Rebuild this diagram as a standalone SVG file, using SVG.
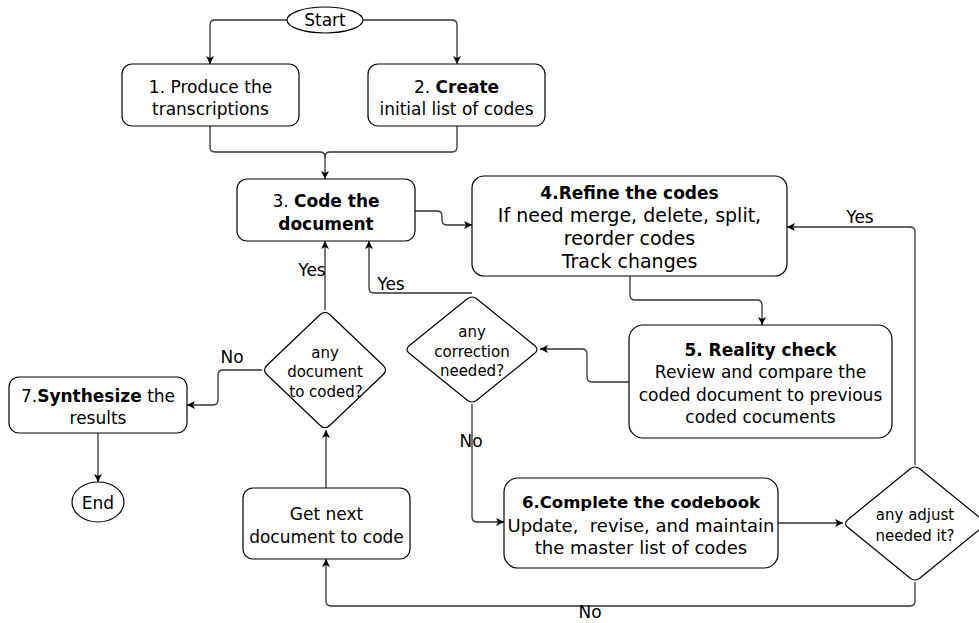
<svg xmlns="http://www.w3.org/2000/svg" width="979" height="623" viewBox="0 0 979 623">
<style>
  .box{fill:#fff;stroke:#000;stroke-width:1.2}
  .t{font-family:"DejaVu Sans",sans-serif;font-size:17px;fill:#000;text-anchor:middle;white-space:pre}
  .b{font-weight:bold}
  .d{font-size:15px}
  .big{font-size:19px}
  .m{font-size:18px}
  .lbl{font-family:"DejaVu Sans",sans-serif;font-size:17px;fill:#000;text-anchor:middle}
  .c{fill:none;stroke:#333;stroke-width:1.3}
</style>
<defs>
  <marker id="ar" viewBox="0 0 10 10" refX="10" refY="5" markerWidth="8" markerHeight="8" markerUnits="userSpaceOnUse" orient="auto">
    <path d="M0,0 L10,5 L0,10 L2.5,5 Z" fill="#000"/>
  </marker>
</defs>
<rect width="979" height="623" fill="#fff"/>
<g id="connectors">
  <path class="c" d="M287,20 H215 Q210,20 210,25 V64" marker-end="url(#ar)"/>
  <path class="c" d="M363,20 H452 Q457,20 457,25 V64" marker-end="url(#ar)"/>
  <path class="c" d="M210,126 V147 Q210,152 215,152 H320 Q325,152 325,157 V179" marker-end="url(#ar)"/>
  <path class="c" d="M457,126 V147 Q457,152 452,152 H330 Q325,152 325,157"/>
  <path class="c" d="M415,211 H437 Q442,211 442,216 V220 Q442,225 447,225 H472" marker-end="url(#ar)"/>
  <path class="c" d="M630,276 V295 Q630,300 635,300 H757 Q762,300 762,305 V325" marker-end="url(#ar)"/>
  <path class="c" d="M629,382 H592 Q587,382 587,377 V354 Q587,349 582,349 H540" marker-end="url(#ar)"/>
  <path class="c" d="M472,293 H374 Q369,293 369,288 V241" marker-end="url(#ar)"/>
  <path class="c" d="M325,310 V241" marker-end="url(#ar)"/>
  <path class="c" d="M262,370 H223 Q218,370 218,375 V400 Q218,405 213,405 H187" marker-end="url(#ar)"/>
  <path class="c" d="M98,433 V482" marker-end="url(#ar)"/>
  <path class="c" d="M326,488 V430" marker-end="url(#ar)"/>
  <path class="c" d="M472,404 V517 Q472,522 477,522 H504" marker-end="url(#ar)"/>
  <path class="c" d="M778,523 H843" marker-end="url(#ar)"/>
  <path class="c" d="M915,465 V232 Q915,227 910,227 H787" marker-end="url(#ar)"/>
  <path class="c" d="M915,582 V601 Q915,606 910,606 H331 Q326,606 326,601 V559" marker-end="url(#ar)"/>
  <text class="lbl" x="860" y="223">Yes</text>
  <text class="lbl" x="312" y="276">Yes</text>
  <text class="lbl" x="391" y="290">Yes</text>
  <text class="lbl" x="232" y="363">No</text>
  <text class="lbl" x="471" y="447">No</text>
  <text class="lbl" x="590" y="618">No</text>
</g>
<g id="start">
  <ellipse class="box" cx="325" cy="20" rx="38" ry="13"/>
  <text class="t" x="325" y="26">Start</text>
</g>
<g id="n1">
  <rect class="box" x="122" y="64" width="177" height="62" rx="10"/>
  <text class="t" x="210.5" y="93">1. Produce the</text>
  <text class="t" x="210.5" y="115">transcriptions</text>
</g>
<g id="n2">
  <rect class="box" x="368" y="64" width="177" height="62" rx="10"/>
  <text class="t" x="456.5" y="93">2. <tspan class="b">Create</tspan></text>
  <text class="t" x="456.5" y="115">initial list of codes</text>
</g>
<g id="n3">
  <rect class="box" x="237" y="179" width="178" height="62" rx="10"/>
  <text class="t" x="326" y="207">3. <tspan class="b">Code the</tspan></text>
  <text class="t b" x="326" y="230">document</text>
</g>
<g id="n4">
  <rect class="box" x="472" y="176" width="315" height="100" rx="12"/>
  <text class="t b" x="629.5" y="199">4.Refine the codes</text>
  <text class="t big" x="629.5" y="222">If need merge, delete, split,</text>
  <text class="t big" x="629.5" y="245">reorder codes</text>
  <text class="t big" x="629.5" y="268">Track changes</text>
</g>
<g id="n5">
  <rect class="box" x="629" y="325" width="263" height="113" rx="14"/>
  <text class="t b" x="760.5" y="356">5. Reality check</text>
  <text class="t" x="760.5" y="378">Review and compare the</text>
  <text class="t" x="760.5" y="401">coded document to previous</text>
  <text class="t" x="760.5" y="423">coded cocuments</text>
</g>
<g id="d_correction">
  <path class="box" d="M467,299 Q472,295 477,299 L534.5,345.5 Q539.5,349.5 534.5,353.5 L477,400 Q472,404 467,400 L409.5,353.5 Q404.5,349.5 409.5,345.5 Z"/>
  <text class="t d" x="472" y="337">any</text>
  <text class="t d" x="472" y="357">correction</text>
  <text class="t d" x="472" y="376">needed?</text>
</g>
<g id="d_document">
  <path class="box" d="M320,314.8 Q325,310 330,314.8 L383,365.2 Q388,370 383,374.8 L330,425.2 Q325,430 320,425.2 L267,374.8 Q262,370 267,365.2 Z"/>
  <text class="t d" x="325" y="358">any</text>
  <text class="t d" x="325" y="377">document</text>
  <text class="t d" x="326" y="397">to coded?</text>
</g>
<g id="n7">
  <rect class="box" x="9" y="377" width="178" height="56" rx="10"/>
  <text class="t" x="98" y="402">7.<tspan class="b">Synthesize</tspan> the</text>
  <text class="t" x="98" y="424">results</text>
</g>
<g id="end">
  <ellipse class="box" cx="98" cy="502" rx="26" ry="20"/>
  <text class="t" x="98" y="509">End</text>
</g>
<g id="next">
  <rect class="box" x="243" y="488" width="167" height="71" rx="10"/>
  <text class="t" x="326.5" y="520">Get next</text>
  <text class="t" x="326.5" y="543">document to code</text>
</g>
<g id="n6">
  <rect class="box" x="504" y="478" width="274" height="90" rx="14"/>
  <text class="t b" x="641" y="508" style="font-size:16.5px">6.Complete the codebook</text>
  <text class="t m" x="641" y="532">Update,  revise, and maintain</text>
  <text class="t m" x="641" y="554">the master list of codes</text>
</g>
<g id="d_adjust">
  <path class="box" d="M910,469 Q915,465 920,469 L982,519.5 Q987,523.5 982,527.5 L920,578 Q915,582 910,578 L848,527.5 Q843,523.5 848,519.5 Z"/>
  <text class="t d" x="915" y="520">any adjust</text>
  <text class="t d" x="915" y="541">needed it?</text>
</g>
</svg>
